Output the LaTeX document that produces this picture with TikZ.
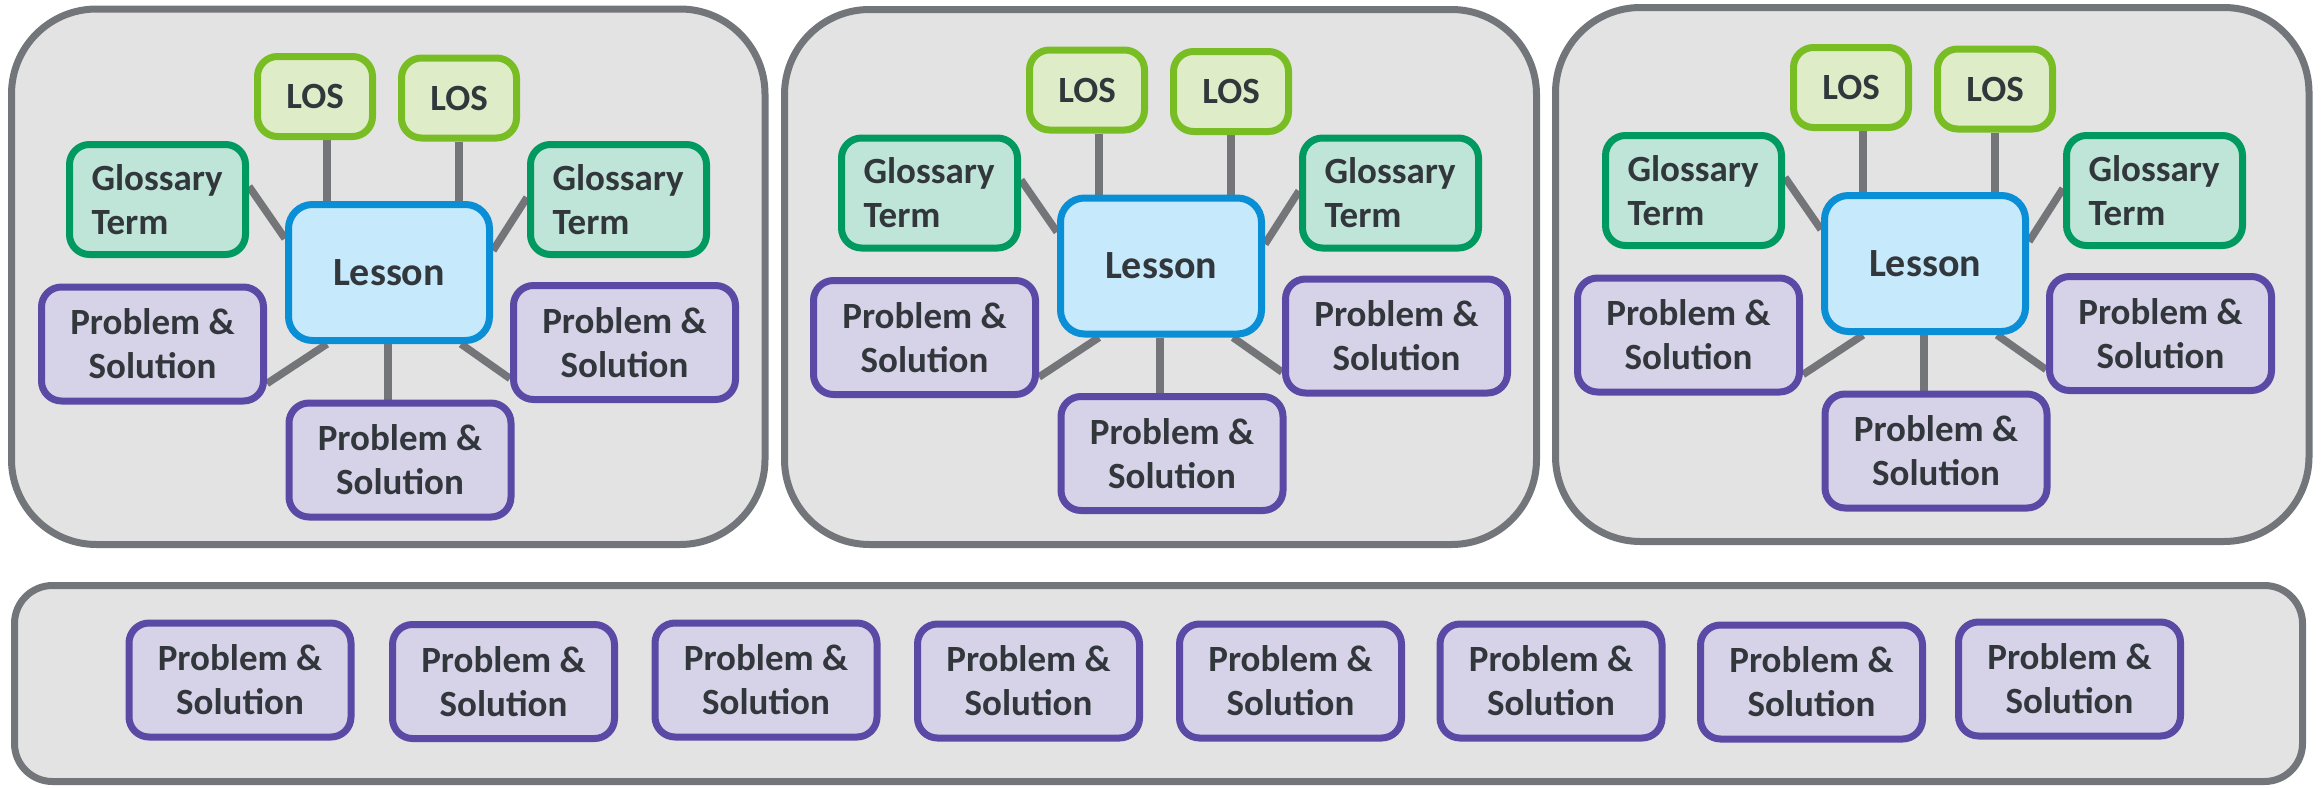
\documentclass[tikz,border=0pt]{standalone}
\usepackage{fontspec}
\setmainfont{Carlito}
\usetikzlibrary{calc}

\pgfdeclarelayer{bg}
\pgfdeclarelayer{links}
\pgfsetlayers{bg,links,main}

\definecolor{txt}{HTML}{32373C}
\definecolor{panF}{HTML}{E3E3E3}
\definecolor{panB}{HTML}{727579}
\definecolor{linkC}{HTML}{737579}
\definecolor{losF}{HTML}{DFECC8}
\definecolor{losB}{HTML}{79BD24}
\definecolor{glF}{HTML}{BFE5D8}
\definecolor{glB}{HTML}{00995F}
\definecolor{leF}{HTML}{C6E9FB}
\definecolor{leB}{HTML}{0A8FD7}
\definecolor{psF}{HTML}{D6D2E8}
\definecolor{psB}{HTML}{5B4AA5}

\tikzset{
  box/.style={draw, line width=7pt, rounded corners=20pt, text=txt, inner sep=0pt,
    align=center, font=\fontsize{37}{44}\selectfont\bfseries},
  los/.style={box, draw=losB, fill=losF, minimum width=115pt, minimum height=80pt},
  gloss/.style={box, draw=glB, fill=glF, minimum height=110pt, text width=132pt,
    align=left, inner xsep=22pt},
  lesson/.style={box, draw=leB, fill=leF, minimum width=201pt, minimum height=136pt,
    rounded corners=24pt, font=\fontsize{40}{48}\selectfont\bfseries},
  ps/.style={box, draw=psB, fill=psF, minimum width=222pt, minimum height=114pt},
  link/.style={draw=linkC, line width=7.5pt},
  panel/.style={draw=panB, fill=panF, line width=7pt},
}

% One lesson cluster: #1 = name prefix, (#2,#3) = centre of the lesson box
\newcommand\cluster[3]{%
  \begin{scope}[shift={(#2,#3)}]
    \node[lesson] (#1-lesson) at (0,0) {Lesson};
    \node[los]   (#1-los1) at (-74,-176)   {LOS};
    \node[los]   (#1-los2) at (70,-174.5)  {LOS};
    \node[gloss] (#1-gl)   at (-231.5,-73) {Glossary\\Term};
    \node[gloss] (#1-gr)   at (229.5,-73)  {Glossary\\Term};
    \node[ps]    (#1-pl)   at (-236.5,71.5){Problem \&\\Solution};
    \node[ps]    (#1-pr)   at (235.5,70)   {Problem \&\\Solution};
    \node[ps]    (#1-pb)   at (11,187.5)   {Problem \&\\Solution};
  \end{scope}
  \begin{pgfonlayer}{links}
    \draw[link] ($(#1-los1.south)+(12,0)$) -- ($(#1-lesson.north)+(-62,0)$);
    \draw[link] (#1-los2.south) -- ($(#1-lesson.north)+(70,0)$);
    \draw[link] ($(#1-gl.east)+(0,-13)$) -- ($(#1-lesson.west)+(0,-34)$);
    \draw[link] ($(#1-gr.west)+(0,-2)$) -- ($(#1-lesson.east)+(0,-22)$);
    \draw[link] ($(#1-pl.east)+(0,39.5)$) -- ($(#1-lesson.south)+(-62,0)$);
    \draw[link] ($(#1-lesson.south)+(-1,0)$) -- ($(#1-pb.north)+(-12,0)$);
    \draw[link] ($(#1-lesson.south)+(72,0)$) -- ($(#1-pr.west)+(0,36)$);
  \end{pgfonlayer}%
}

\begin{document}
\begin{tikzpicture}[x=1pt,y=-1pt]
  \useasboundingbox (0,0) rectangle (2323,787);

  % grey containers
  \begin{pgfonlayer}{bg}
    \draw[panel, rounded corners=85pt] (11.5,9)   rectangle (765,544.5);
    \draw[panel, rounded corners=85pt] (784.5,9.5) rectangle (1536.5,544.5);
    \draw[panel, rounded corners=85pt] (1555.5,7.5) rectangle (2309,541.5);
    \draw[panel, rounded corners=38pt] (14.5,585.5) rectangle (2302.5,781.5);
  \end{pgfonlayer}

  % three lesson clusters
  \cluster{a}{389}{272.5}
  \cluster{b}{1161}{266}
  \cluster{c}{1925}{263.5}

  % row of loose problems
  \foreach \i/\x/\y in {1/240/680, 2/503.5/681.5, 3/766/680, 4/1028.5/681,
                        5/1290.5/681, 6/1551/681, 7/1811.5/682, 8/2069.5/679}
    \node[ps] (b\i) at (\x,\y) {Problem \&\\Solution};
\end{tikzpicture}
\end{document}
